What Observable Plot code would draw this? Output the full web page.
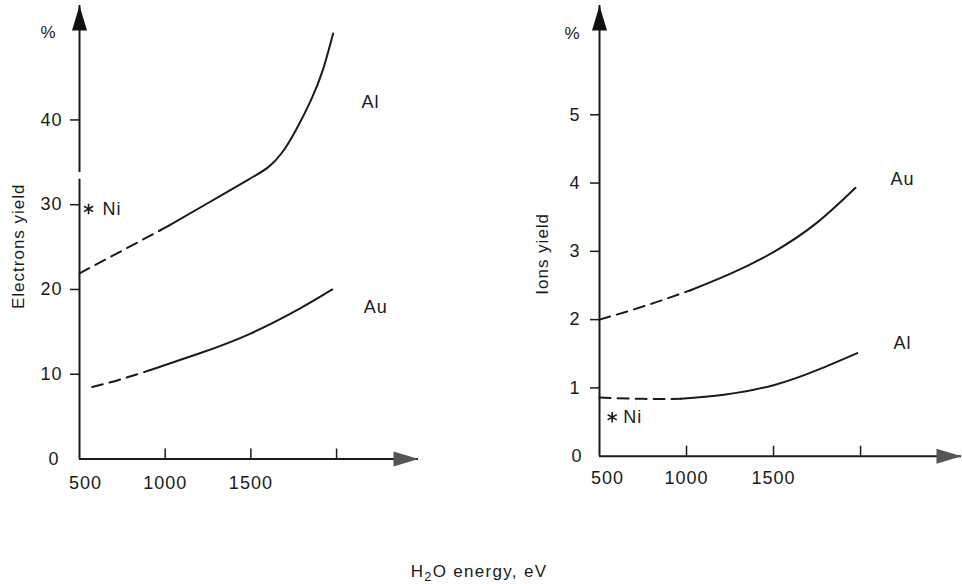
<!DOCTYPE html>
<html>
<head>
<meta charset="utf-8">
<script src="https://cdn.jsdelivr.net/npm/d3@7"></script>
<script src="https://cdn.jsdelivr.net/npm/@observablehq/plot@0.6"></script>
<style>
  html, body { margin: 0; padding: 0; background: #fff; }
  #wrap { position: relative; width: 962px; height: 584px; background: #fff; overflow: hidden; }
  #left { position: absolute; left: 0; top: 0; }
  #right { position: absolute; left: 481px; top: 0; }
  #cap { position: absolute; left: 0; width: 958px; top: 562px; text-align: center;
         font-family: "Liberation Sans", Arial, sans-serif; font-size: 17px; letter-spacing: 1.3px; color: #1a1a1a; }
  #cap sub { font-size: 13px; }
  svg text { letter-spacing: 1px; }
</style>
</head>
<body>
<div id="wrap">
  <div id="left"></div>
  <div id="right"></div>
  <div id="cap">H<sub>2</sub>O energy, eV</div>
</div>
<script>
// ---------- Left panel: electrons yield (%) vs H2O energy (eV) ----------
const elecAlDashE  = [500, 760, 1019];
const elecAlDashY  = [21.9, 24.7, 27.5];
const elecAlSolidE = [1019, 1250, 1488, 1600, 1680, 1760, 1850, 1920, 1980];
const elecAlSolidY = [27.5, 30.2, 33.0, 34.4, 36.1, 38.7, 42.3, 45.9, 50.2];
const elecAuDashE  = [574, 725, 914];
const elecAuDashY  = [8.5, 9.3, 10.5];
const elecAuSolidE = [914, 1206, 1498, 1790, 1975];
const elecAuSolidY = [10.5, 12.5, 14.8, 17.8, 20.0];
const elecNiE = [553];
const elecNiY = [29.5];
const elecLabelNames = ["Al", "Au"];
const elecLabelE = [2198, 2228];
const elecLabelY = [42.1, 17.9];
const elecTicks = [10, 20, 30, 40];
const elecAxisMax = 53.5;
const elecAxisBreak = [33.0, 33.8];
const eLeftAxisMax = 2478;

// ---------- Right panel: ions yield (%) vs H2O energy (eV) ----------
const ionsAuDashE  = [500, 760, 1023];
const ionsAuDashY  = [2.0, 2.2, 2.43];
const ionsAuSolidE = [1023, 1250, 1500, 1750, 1971];
const ionsAuSolidY = [2.43, 2.67, 2.99, 3.42, 3.93];
const ionsAlDashE  = [500, 750, 966];
const ionsAlDashY  = [0.86, 0.84, 0.84];
const ionsAlSolidE = [966, 1215, 1500, 1750, 1981];
const ionsAlSolidY = [0.84, 0.90, 1.04, 1.26, 1.51];
const ionsNiE = [573];
const ionsNiY = [0.57];
const ionsLabelNames = ["Au", "Al"];
const ionsLabelE = [2241, 2241];
const ionsLabelY = [4.05, 1.65];
const ionsTicks = [1, 2, 3, 4, 5];
const ionsAxisMax = 6.6;
const eRightAxisMax = 2580;

// ---------- shared x ticks ----------
const energyTickMarks = [1000, 1500, 2000];
const energyTickLabels = [1000, 1500];
const energyFirstLabel = [500];
const energyOrigin = 500;

const INK = "#1a1a1a";
const FONT = "'Liberation Sans', Arial, Helvetica, sans-serif";
const fmt = d => String(d);

const pts = (E, Y) => E.map((e, i) => ({e, y: Y[i]}));
const labels = (N, E, Y) => N.map((n, i) => ({name: n, e: E[i], y: Y[i]}));

// elongated filled arrow head, tip at the origin, pointing up
const arrowHead = {
  draw(ctx) { ctx.moveTo(0, 0); ctx.lineTo(7.5, 25); ctx.lineTo(-7.5, 25); ctx.closePath(); }
};

function panel({width, marginLeft, marginRight, marginBottom, xMax, yMax, yTicks,
                curves, niE, niY, lbl, yLabel, yLabelDx, yLabelDy, pctDx, pctDy,
                yTickPad, zeroPad, xLabelPad, firstDx, niDx, yBreak}) {
  const yAxisSegs = yBreak
    ? [{y1: 0, y2: yBreak[0]}, {y1: yBreak[1], y2: yMax}]
    : [{y1: 0, y2: yMax}];
  const marks = [
    Plot.ruleY([0], {x1: energyOrigin, x2: xMax, stroke: INK, strokeWidth: 2}),
    Plot.ruleX(yAxisSegs, {x: () => energyOrigin, y1: "y1", y2: "y2", stroke: INK, strokeWidth: 2}),
    Plot.dot([{e: energyOrigin, y: yMax}], {x: "e", y: "y", symbol: arrowHead, r: 5, fill: "#111", stroke: null}),
    Plot.dot([{e: xMax, y: 0}], {x: "e", y: "y", symbol: arrowHead, r: 5, rotate: 90, fill: "#555", stroke: null}),
    Plot.axisY({ticks: yTicks, tickSize: 9, tickPadding: yTickPad, tickFormat: fmt, strokeWidth: 1.5, fontSize: 18, label: null, stroke: INK, fill: INK}),
    Plot.axisY({ticks: [0], tickSize: 0, tickPadding: zeroPad, tickFormat: fmt, fontSize: 18, label: null, fill: INK}),
    Plot.axisX({ticks: energyTickMarks, tickSize: -10, tickFormat: () => "", strokeWidth: 1.5, label: null, stroke: INK}),
    Plot.axisX({ticks: energyTickLabels, tickSize: 0, tickPadding: xLabelPad, tickFormat: fmt, fontSize: 18, label: null, fill: INK}),
    Plot.axisX({ticks: energyFirstLabel, tickSize: 0, tickPadding: xLabelPad, tickFormat: fmt, fontSize: 18, label: null, dx: firstDx, fill: INK}),
    Plot.text(["%"], {frameAnchor: "top-left", dx: pctDx, dy: pctDy, fontSize: 17, textAnchor: "middle", lineAnchor: "middle", fill: INK}),
    Plot.text([yLabel], {frameAnchor: "left", rotate: -90, dx: yLabelDx, dy: yLabelDy, fontSize: 17, textAnchor: "middle", lineAnchor: "middle", fill: INK}),
  ];
  for (const c of curves) {
    marks.push(Plot.line(pts(c.dashE, c.dashY), {x: "e", y: "y", curve: "natural", stroke: INK, strokeWidth: 2, strokeDasharray: "11,7"}));
    marks.push(Plot.line(pts(c.solidE, c.solidY), {x: "e", y: "y", curve: "natural", stroke: INK, strokeWidth: 2}));
  }
  marks.push(
    Plot.dot(pts(niE, niY), {x: "e", y: "y", symbol: "asterisk", r: 5, stroke: INK, strokeWidth: 1.6}),
    Plot.text(pts(niE, niY), {x: "e", y: "y", text: () => "Ni", dx: niDx, textAnchor: "start", fontSize: 18, fill: INK}),
    Plot.text(lbl, {x: "e", y: "y", text: "name", fontSize: 18, textAnchor: "middle", fill: INK})
  );
  return Plot.plot({
    width, height: 500,
    marginLeft, marginRight, marginTop: 5, marginBottom,
    x: {domain: [energyOrigin, xMax], axis: null},
    y: {domain: [0, yMax], axis: null},
    style: {fontFamily: FONT, fontSize: "18px", color: INK, background: "transparent", overflow: "visible"},
    marks
  });
}

document.getElementById("left").append(panel({
  width: 481, marginLeft: 79, marginRight: 63, marginBottom: 41.5,
  xMax: eLeftAxisMax, yMax: elecAxisMax, yTicks: elecTicks,
  curves: [
    {dashE: elecAlDashE, dashY: elecAlDashY, solidE: elecAlSolidE, solidY: elecAlSolidY},
    {dashE: elecAuDashE, dashY: elecAuDashY, solidE: elecAuSolidE, solidY: elecAuSolidY}
  ],
  niE: elecNiE, niY: elecNiY,
  lbl: labels(elecLabelNames, elecLabelE, elecLabelY),
  yLabel: "Electrons yield", yLabelDx: -61, yLabelDy: 14, pctDx: -31, pctDy: 27,
  yTickPad: 8, zeroPad: 20, xLabelPad: 17, firstDx: 6, niDx: 14, yBreak: elecAxisBreak
}));

document.getElementById("right").append(panel({
  width: 481, marginLeft: 118, marginRight: 1, marginBottom: 44.3,
  xMax: eRightAxisMax, yMax: ionsAxisMax, yTicks: ionsTicks,
  curves: [
    {dashE: ionsAuDashE, dashY: ionsAuDashY, solidE: ionsAuSolidE, solidY: ionsAuSolidY},
    {dashE: ionsAlDashE, dashY: ionsAlDashY, solidE: ionsAlSolidE, solidY: ionsAlSolidY}
  ],
  niE: ionsNiE, niY: ionsNiY,
  lbl: labels(ionsLabelNames, ionsLabelE, ionsLabelY),
  yLabel: "Ions yield", yLabelDx: -57, yLabelDy: 23, pctDx: -27, pctDy: 28,
  yTickPad: 10, zeroPad: 17, xLabelPad: 15, firstDx: 8, niDx: 11, yBreak: null
}));
</script>
</body>
</html>
